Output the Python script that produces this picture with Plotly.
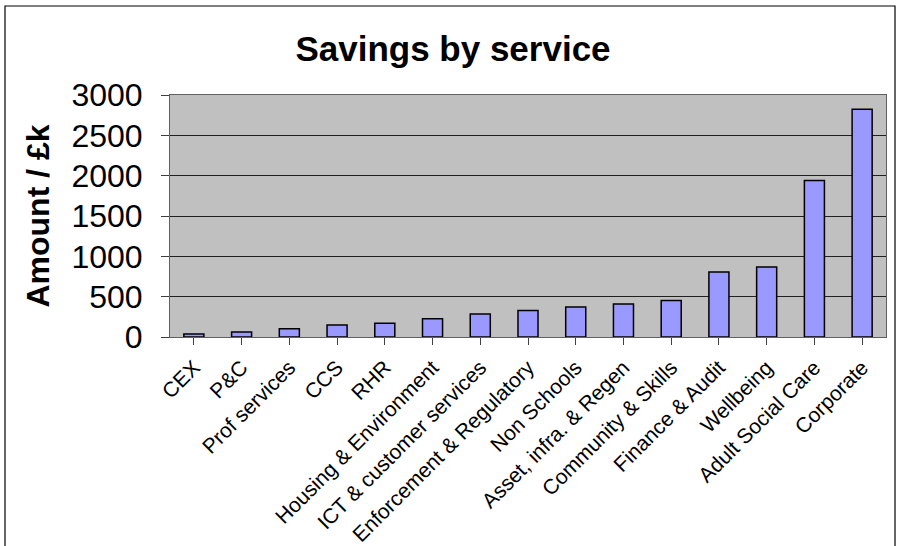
import plotly.graph_objects as go

categories = ["CEX", "P&C", "Prof services", "CCS", "RHR", "Housing & Environment",
              "ICT & customer services", "Enforcement & Regulatory", "Non Schools",
              "Asset, infra. & Regen", "Community & Skills", "Finance & Audit",
              "Wellbeing", "Adult Social Care", "Corporate"]
savings = [38, 62, 103, 149, 169, 227, 285, 330, 371, 409, 454, 805, 867, 1940, 2823]
y_ticks = [0, 500, 1000, 1500, 2000, 2500, 3000]

W, H = 901, 546
L, R, T, B = 170, 15, 95, 209
pw, ph = W - L - R, H - T - B

fig = go.Figure(go.Bar(
    x=categories, y=savings,
    marker=dict(color="#9999FF", line=dict(color="black", width=1.5)),
))

fig.update_layout(
    width=W, height=H,
    margin=dict(l=L, r=R, t=T, b=B, autoexpand=False),
    paper_bgcolor="white",
    plot_bgcolor="#C0C0C0",
    bargap=0.58,
    showlegend=False,
    font=dict(family="Arial, Liberation Sans, sans-serif", color="black"),
    title=dict(text="<b>Savings by service</b>", font=dict(size=35, color="black"),
               x=453 / W, xref="container", xanchor="center",
               y=1 - 49 / H, yref="container", yanchor="middle", automargin=False),
    shapes=[dict(type="rect", xref="paper", yref="paper",
                 x0=(5 - L) / pw, x1=(895 - L) / pw,
                 y0=(H - B - 560) / ph, y1=(H - B - 6) / ph,
                 line=dict(color="black", width=1.2), fillcolor="rgba(0,0,0,0)",
                 layer="below")],
)

fig.update_xaxes(
    type="category", tickangle=-45, tickfont=dict(size=21),
    ticks="outside", ticklen=7, tickcolor="#404040", automargin=False,
    showline=True, linecolor="#606060", linewidth=1, mirror=True,
    showgrid=False, ticklabelstandoff=2,
)
fig.update_yaxes(
    range=[0, 3000], tickvals=y_ticks, tickfont=dict(size=32),
    ticks="outside", ticklen=8, tickcolor="#404040", automargin=False,
    showline=True, linecolor="#606060", linewidth=1, mirror=True,
    showgrid=True, gridcolor="#202020", gridwidth=1, zeroline=False,
    ticklabelstandoff=12,
    title=dict(text="<b>Amount / £k</b>", font=dict(size=32), standoff=12),
)

fig.write_html("out.html", config={"displayModeBar": False},
               post_script="document.body.style.margin='0';document.body.style.overflow='hidden';")
